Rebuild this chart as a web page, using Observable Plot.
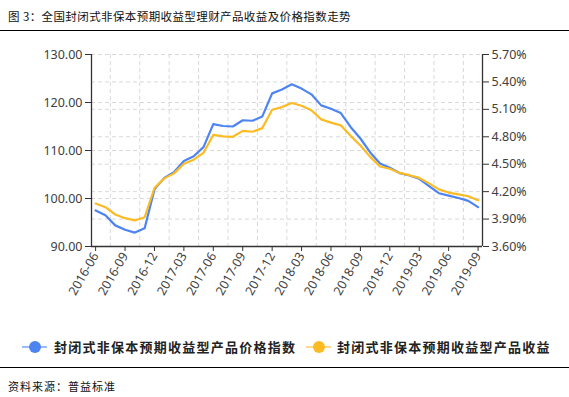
<!DOCTYPE html>
<html>
<head>
<meta charset="utf-8">
<script src="https://cdn.jsdelivr.net/npm/d3@7"></script>
<script src="https://cdn.jsdelivr.net/npm/@observablehq/plot@0.6"></script>
<style>
  html, body { margin: 0; padding: 0; background: #fff; }
  body { width: 569px; height: 397px; position: relative; overflow: hidden; font-family: "Noto Sans CJK SC", "Noto Sans", sans-serif; }
  #title { position: absolute; left: 0; top: 0; width: 569px; height: 30px; border-bottom: 1.5px solid #000; }
  #title span { position: absolute; left: 8px; top: 8px; font-size: 11.5px; color: #111; letter-spacing: 0.4px; white-space: nowrap; }
  #chart { position: absolute; left: 0; top: 33px; }
  #legend { position: absolute; left: 0; top: 330px; width: 569px; height: 37px; border-bottom: 1.5px solid #000; }
  .item { position: absolute; top: 8px; height: 18px; }
  .mk { position: absolute; top: 8px; width: 25px; height: 2px; }
  .dot { position: absolute; top: 3px; left: 6.5px; width: 12px; height: 12px; border-radius: 50%; }
  .lt { position: absolute; top: 0; font-size: 13px; font-weight: bold; letter-spacing: 1.25px; color: #222; white-space: nowrap; line-height: 18px; }
  #source { position: absolute; left: 8px; top: 378px; font-size: 11px; color: #111; letter-spacing: 1px; white-space: nowrap; }
</style>
</head>
<body>
<div id="title"><span>图 3：全国封闭式非保本预期收益型理财产品收益及价格指数走势</span></div>
<div id="chart"></div>
<div id="legend"></div>
<div id="source">资料来源：普益标准</div>
<script>
const months = ["2016-06","2016-07","2016-08","2016-09","2016-10","2016-11","2016-12","2017-01","2017-02","2017-03",
  "2017-04","2017-05","2017-06","2017-07","2017-08","2017-09","2017-10","2017-11","2017-12","2018-01",
  "2018-02","2018-03","2018-04","2018-05","2018-06","2018-07","2018-08","2018-09","2018-10","2018-11",
  "2018-12","2019-01","2019-02","2019-03","2019-04","2019-05","2019-06","2019-07","2019-08","2019-09"];
const priceIndex = [97.5,96.5,94.4,93.5,92.9,93.8,101.9,104.3,105.5,107.8,
  108.8,110.7,115.5,115.1,115.0,116.3,116.2,117.1,121.9,122.7,
  123.8,122.9,121.7,119.4,118.7,117.8,114.9,112.5,109.6,107.3,
  106.4,105.3,104.8,104.1,102.6,101.1,100.6,100.1,99.5,98.2];
const yields = [4.07,4.03,3.95,3.91,3.885,3.92,4.24,4.345,4.40,4.505,
  4.55,4.625,4.82,4.805,4.80,4.865,4.855,4.895,5.095,5.125,
  5.17,5.14,5.09,4.99,4.955,4.925,4.81,4.705,4.58,4.475,
  4.45,4.405,4.38,4.35,4.29,4.225,4.19,4.17,4.15,4.105];
const xTickLabels = ["2016-06","2016-09","2016-12","2017-03","2017-06","2017-09","2017-12",
  "2018-03","2018-06","2018-09","2018-12","2019-03","2019-06","2019-09"];
const leftTicks = [90,100,110,120,130];
const rightTicks = [3.6,3.9,4.2,4.5,4.8,5.1,5.4,5.7];
const seriesNames = ["封闭式非保本预期收益型产品价格指数","封闭式非保本预期收益型产品收益"];
const colors = ["#4d84f2","#fcbb24"];

const L0 = 90, L1 = 130, R0 = 3.6, R1 = 5.7;
const toLeft = v => L0 + (v - R0) / (R1 - R0) * (L1 - L0);
const fromLeft = v => R0 + (v - L0) / (L1 - L0) * (R1 - R0);

const data = months.map((m, i) => ({i, month: m, price: priceIndex[i], yld: yields[i]}));
const xTickIdx = xTickLabels.map(l => months.indexOf(l));
const gridX = xTickIdx.slice(0, -1).map(i => i + 1.5);
const xMin = -0.42, xMax = 39.45;

const grid = {stroke: "#d9d9d9", strokeDasharray: "4,3", strokeWidth: 1};
const chart = Plot.plot({
  width: 569, height: 297,
  marginLeft: 91, marginRight: 87, marginTop: 21, marginBottom: 84,
  style: {fontFamily: "'Noto Sans', sans-serif", fontSize: "12px", color: "#404040", background: "transparent"},
  x: {type: "linear", domain: [xMin, xMax]},
  y: {domain: [L0, L1]},
  marks: [
    Plot.ruleX(gridX, grid),
    Plot.ruleY(leftTicks.slice(1), grid),
    Plot.ruleY(rightTicks.slice(1).map(toLeft), grid),
    Plot.axisY({ticks: leftTicks, anchor: "left", tickFormat: d => d.toFixed(2), tickSize: 6, tickPadding: 3, label: null, fontSize: 12.5, stroke: "#333"}),
    Plot.axisY({ticks: rightTicks.map(toLeft), anchor: "right", tickFormat: d => fromLeft(d).toFixed(2) + "%", tickSize: 6, tickPadding: 3, label: null, fontSize: 12.5, stroke: "#333"}),
    Plot.axisX({ticks: xTickIdx, tickFormat: i => months[i], tickRotate: -60, tickSize: 5, tickPadding: 2, label: null, fontSize: 12.5, stroke: "#333"}),
    Plot.ruleX([xMin, xMax], {stroke: "#333", strokeWidth: 1.3}),
    Plot.ruleY([L0], {stroke: "#333", strokeWidth: 1.3}),
    Plot.line(data, {x: "i", y: "price", stroke: colors[0], strokeWidth: 2.2}),
    Plot.line(data, {x: "i", y: d => toLeft(d.yld), stroke: colors[1], strokeWidth: 2.2})
  ]
});
document.getElementById("chart").appendChild(chart);

const legend = document.getElementById("legend");
const pos = [{mk: 22, tx: 54}, {mk: 306, tx: 337}];
seriesNames.forEach((name, k) => {
  const it = document.createElement("div");
  it.className = "item";
  it.style.left = "0px";
  it.innerHTML = `<div class="mk" style="left:${pos[k].mk}px;background:${colors[k]};opacity:0.55"></div>
    <div class="dot" style="left:${pos[k].mk + 6.5}px;background:${colors[k]}"></div>
    <div class="lt" style="left:${pos[k].tx}px">${name}</div>`;
  legend.appendChild(it);
});
</script>
</body>
</html>
